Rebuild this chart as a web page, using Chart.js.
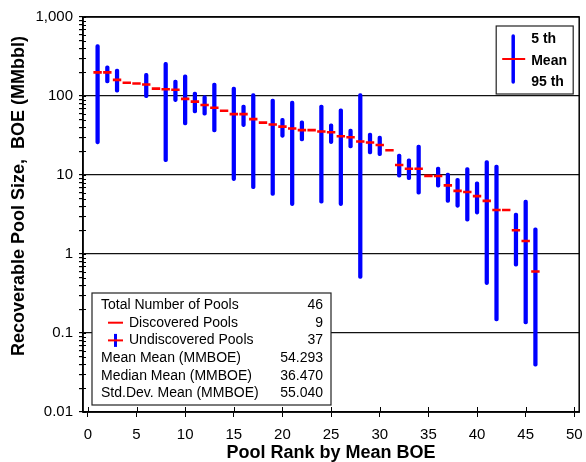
<!DOCTYPE html>
<html>
<head>
<meta charset="utf-8">
<title>Pool Rank by Mean BOE</title>
<script src="https://cdn.jsdelivr.net/npm/chart.js@4.4.1/dist/chart.umd.min.js"></script>
<style>
  html,body{margin:0;padding:0;background:#fff;}
  #wrap{width:586px;height:462px;}
</style>
</head>
<body>
<div id="wrap"><canvas id="poolChart" width="586" height="462"></canvas></div>
<script>
// pool rank (by mean) and recoverable size, MMBOE
const POOL_RANK = [1,2,3,4,5,6,7,8,9,10,11,12,13,14,15,16,17,18,19,20,21,22,23,
  24,25,26,27,28,29,30,31,32,33,34,35,36,37,38,39,40,41,42,43,44,45,46];
const MEAN_BOE = [199,199,160,147,144,140,124,122,120,92,85,77,71,65,59,59,51,46,43.5,41,38.7,37,37,
  35.5,34.8,31,30,26.5,25.8,24,20.6,13.4,12,12,9.75,9.7,7.4,6.3,6.1,5.4,4.7,3.6,3.6,2.0,1.46,0.6];
// null = discovered pool (no range drawn)
const F5_BOE = [446,241,219,null,null,193,null,266,159,186,112,101,146,null,130,77,107,null,91.5,52,86,48.5,null,
  77,44.5,69,38,107,34,31,null,18.4,16,24,null,12.6,10.6,9.1,12.4,8.2,15.2,13.4,null,3.3,4.8,2.15];
const F95_BOE = [24.8,146,112,null,null,95,null,14.7,85,43,61,57,35,null,8.5,41,6.7,null,5.5,30,4.1,27,null,
  4.4,25,4.1,22,0.49,18.5,17.6,null,9.4,8.7,5.7,null,7,4.5,3.9,2.6,3.2,0.41,0.142,null,0.7,0.13,0.038];

const X_TICKS = [0,5,10,15,20,25,30,35,40,45,50];
const Y_MAJOR = [0.01,0.1,1,10,100,1000];
const Y_MAJOR_LABELS = ['0.01','0.1','1','10','100','1,000'];

const KEY_LABELS = ['5 th','Mean','95 th'];
const STAT_LABELS = ['Total Number of Pools','Discovered Pools','Undiscovered Pools',
  'Mean Mean (MMBOE)','Median Mean (MMBOE)','Std.Dev. Mean (MMBOE)'];
const STAT_VALUES = ['46','9','37','54.293','36.470','55.040'];

const Y_TITLE = 'Recoverable Pool Size,  BOE (MMbbl)';
const X_TITLE = 'Pool Rank by Mean BOE';

const BLUE = '#0000ff', RED = '#ff0000';
const FONT = '"Liberation Sans", Arial, sans-serif';

// log ticks: decades plus 2..9 minors
const yTickValues = [];
Y_MAJOR.forEach((v,i)=>{
  yTickValues.push(v);
  if(i<Y_MAJOR.length-1) for(let m=2;m<10;m++) yTickValues.push(+(v*m).toPrecision(3));
});

const rangeData = POOL_RANK.map((r,i)=>F5_BOE[i]==null?null:{x:r,y:[F95_BOE[i],F5_BOE[i]]}).filter(d=>d);
const meanData = POOL_RANK.map((r,i)=>({x:r,y:MEAN_BOE[i]}));

const decor = {
  id:'decor',
  afterDraw(chart){
    const {ctx,chartArea:a,scales} = chart;
    ctx.save();
    // inside halves of the tick marks
    ctx.strokeStyle='#000'; ctx.lineWidth=1;
    scales.y.ticks.forEach(t=>{
      const y=Math.round(scales.y.getPixelForValue(t.value))+0.5;
      ctx.beginPath(); ctx.moveTo(a.left,y); ctx.lineTo(a.left+3,y); ctx.stroke();
    });
    scales.x.ticks.forEach(t=>{
      const x=Math.round(scales.x.getPixelForValue(t.value))+0.5;
      ctx.beginPath(); ctx.moveTo(x,a.bottom); ctx.lineTo(x,a.bottom-5); ctx.stroke();
    });
    // frame
    ctx.lineWidth=1.5;
    ctx.strokeRect(a.left,a.top,a.right-a.left,a.bottom-a.top);

    // key box, top right
    const kw=77,kh=68,kx=a.right-6-kw,ky=a.top+9;
    ctx.fillStyle='#fff'; ctx.fillRect(kx,ky,kw,kh);
    ctx.lineWidth=1.2; ctx.strokeStyle='#222'; ctx.strokeRect(kx,ky,kw,kh);
    ctx.lineCap='round';
    ctx.strokeStyle=BLUE; ctx.lineWidth=3.5;
    ctx.beginPath(); ctx.moveTo(kx+17,ky+10); ctx.lineTo(kx+17,ky+56); ctx.stroke();
    ctx.lineCap='butt';
    ctx.strokeStyle=RED; ctx.lineWidth=2;
    ctx.beginPath(); ctx.moveTo(kx+6,ky+33); ctx.lineTo(kx+29,ky+33); ctx.stroke();
    ctx.fillStyle='#000'; ctx.font='bold 14px '+FONT; ctx.textBaseline='middle'; ctx.textAlign='left';
    KEY_LABELS.forEach((s,i)=>ctx.fillText(s,kx+35,ky+13.5+i*21.3));

    // statistics box, bottom left
    const sw=239,sh=112,sx=a.left+9,sy=a.bottom-7-sh;
    ctx.fillStyle='#fff'; ctx.fillRect(sx,sy,sw,sh);
    ctx.lineWidth=1.2; ctx.strokeStyle='#222'; ctx.strokeRect(sx,sy,sw,sh);
    ctx.font='14px '+FONT; ctx.fillStyle='#000';
    STAT_LABELS.forEach((s,i)=>{
      const y=sy+12+i*17.7;
      const indent=(i===1||i===2)?37:9;
      ctx.textAlign='left'; ctx.fillText(s,sx+indent,y);
      ctx.textAlign='right'; ctx.fillText(STAT_VALUES[i],sx+sw-8,y);
      if(i===2){
        ctx.strokeStyle=BLUE; ctx.lineWidth=3;
        ctx.beginPath(); ctx.moveTo(sx+23.5,y-6.5); ctx.lineTo(sx+23.5,y+6.5); ctx.stroke();
      }
      if(i===1||i===2){
        ctx.strokeStyle=RED; ctx.lineWidth=2;
        ctx.beginPath(); ctx.moveTo(sx+16,y); ctx.lineTo(sx+31,y); ctx.stroke();
      }
    });

    // y axis title
    ctx.translate(19,196); ctx.rotate(-Math.PI/2);
    ctx.font='bold 18px '+FONT; ctx.textAlign='center'; ctx.textBaseline='middle'; ctx.fillStyle='#000';
    ctx.fillText(Y_TITLE,0,0);
    ctx.restore();
  }
};

new Chart(document.getElementById('poolChart').getContext('2d'),{
  type:'bar',
  data:{
    datasets:[
      { type:'scatter', label:'Mean', data:meanData,
        pointStyle:'line', pointRadius:4.2, pointHoverRadius:4.2,
        borderColor:RED, backgroundColor:RED, borderWidth:2.6 },
      { type:'bar', label:'5th - 95th', data:rangeData,
        backgroundColor:BLUE, borderWidth:0, barThickness:3.6,
        borderRadius:2, borderSkipped:false }
    ]
  },
  options:{
    responsive:false,
    animation:false,
    events:[],
    layout:{ padding:{ top:17, right:6, left:0, bottom:0 } },
    plugins:{ legend:{display:false}, tooltip:{enabled:false} },
    scales:{
      x:{ type:'linear', min:-0.5, max:50.5, offset:false,
          afterBuildTicks:s=>{ s.ticks=X_TICKS.map(v=>({value:v})); },
          afterFit:s=>{ s.height=50; s.paddingLeft=0; s.paddingRight=0; },
          grid:{ drawOnChartArea:false, color:'#000', tickLength:5, offset:false },
          border:{ color:'#000', width:1.5 },
          ticks:{ color:'#000', font:{family:FONT,size:15}, padding:9, maxRotation:0 },
          title:{ display:true, text:X_TITLE, color:'#000',
                  font:{family:FONT,size:18,weight:'bold',lineHeight:1}, padding:{top:0,bottom:0} } },
      y:{ type:'logarithmic', min:0.01, max:1000,
          afterBuildTicks:s=>{ s.ticks=yTickValues.map(v=>({value:v})); },
          afterFit:s=>{ s.width=83; },
          grid:{ color:c=>c.tick&&Y_MAJOR.includes(c.tick.value)?'#111':'rgba(0,0,0,0)',
                 tickColor:'#000', tickLength:4, lineWidth:1.2 },
          border:{ color:'#000', width:1.5 },
          ticks:{ color:'#000', font:{family:FONT,size:15}, padding:6, autoSkip:false,
                  callback:v=>{ const i=Y_MAJOR.indexOf(v); return i>=0?Y_MAJOR_LABELS[i]:''; } } }
    }
  },
  plugins:[decor]
});
</script>
</body>
</html>
